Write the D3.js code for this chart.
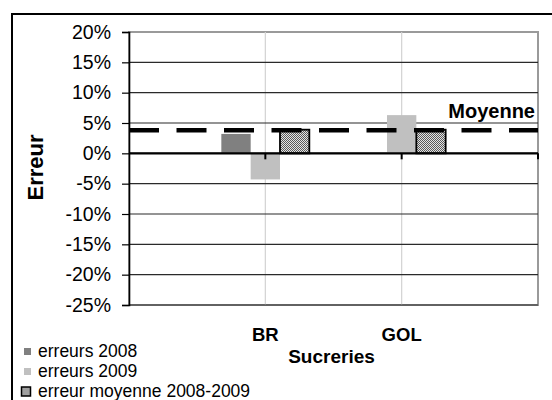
<!DOCTYPE html>
<html>
<head>
<meta charset="utf-8">
<script src="https://cdn.jsdelivr.net/npm/d3@7/dist/d3.min.js"></script>
<style>
  html, body { margin: 0; padding: 0; background: #fff; }
  svg { display: block; font-family: "Liberation Sans", Arial, sans-serif; }
</style>
</head>
<body>
<svg id="chart" width="552" height="400"></svg>
<script>
// Sugar mills and their error rates (percent)
const categories = ["BR", "GOL"];
const categorySlots = [1, 2];              // position of each mill on a 0..3 category axis
const series = ["erreurs 2008", "erreurs 2009", "erreur moyenne 2008-2009"];
const errors2008 = [3.2, null];
const errors2009 = [-4.3, 6.3];
const errorsMean = [3.9, 3.9];
const overallMean = 3.8;                    // "Moyenne" reference line
const yTicks = [20, 15, 10, 5, 0, -5, -10, -15, -20, -25];

const svg = d3.select("#chart");
const plot = { left: 129, right: 538, top: 32, bottom: 305 };

const x = d3.scaleLinear().domain([0, 3]).range([plot.left, plot.right]);
const y = d3.scaleLinear().domain([-25, 20]).range([plot.bottom, plot.top]);
const inner = d3.scaleBand().domain(series).range([-44, 44]).padding(0);

const fills = {
  "erreurs 2008": "#808080",
  "erreurs 2009": "#c0c0c0",
  "erreur moyenne 2008-2009": "url(#checker)"
};

// fine checker pattern for the mean-error bars
const defs = svg.append("defs");
const pat = defs.append("pattern")
  .attr("id", "checker").attr("patternUnits", "userSpaceOnUse")
  .attr("width", 2).attr("height", 2);
pat.append("rect").attr("width", 2).attr("height", 2).attr("fill", "#e4e4e4");
pat.append("rect").attr("width", 1).attr("height", 1).attr("fill", "#5a5a5a");
pat.append("rect").attr("x", 1).attr("y", 1).attr("width", 1).attr("height", 1).attr("fill", "#5a5a5a");

// outer chart frame
svg.append("rect")
  .attr("x", 12).attr("y", 14).attr("width", 600).attr("height", 500)
  .attr("fill", "none").attr("stroke", "#000").attr("stroke-width", 2);

// plot area border
svg.append("rect")
  .attr("x", plot.left).attr("y", plot.top)
  .attr("width", plot.right - plot.left).attr("height", plot.bottom - plot.top)
  .attr("fill", "none").attr("stroke", "#9a9a9a").attr("stroke-width", 2);

// vertical category gridlines
svg.append("g").selectAll("line").data(categorySlots).join("line")
  .attr("x1", d => x(d)).attr("x2", d => x(d))
  .attr("y1", plot.top).attr("y2", plot.bottom)
  .attr("stroke", "#d2d2d2").attr("stroke-width", 1.2);

// horizontal value gridlines
svg.append("g").selectAll("line").data(yTicks.filter(t => t < 20)).join("line")
  .attr("x1", plot.left).attr("x2", plot.right)
  .attr("y1", d => y(d)).attr("y2", d => y(d))
  .attr("stroke", "#2a2a2a").attr("stroke-width", 1.2);

// y axis
const yAxis = d3.axisLeft(y).tickValues(yTicks).tickSize(7).tickPadding(11)
  .tickFormat(d => d + "%");
const gy = svg.append("g").attr("transform", `translate(${plot.left},0)`).call(yAxis);
gy.select(".domain").attr("stroke", "#000").attr("stroke-width", 1.6);
gy.selectAll(".tick line").attr("stroke", "#000").attr("stroke-width", 1.2);
gy.selectAll(".tick text").attr("font-size", "19.5px").attr("fill", "#000")
  .attr("font-family", "Liberation Sans, Arial, sans-serif");

// bars
const rows = categories.map((c, i) => ({
  cat: c, slot: categorySlots[i],
  values: [errors2008[i], errors2009[i], errorsMean[i]]
}));
const bars = [];
rows.forEach(r => r.values.forEach((v, k) => {
  if (v !== null) bars.push({ slot: r.slot, s: series[k], v });
}));
svg.append("g").selectAll("rect").data(bars).join("rect")
  .attr("x", d => x(d.slot) + inner(d.s))
  .attr("width", inner.bandwidth())
  .attr("y", d => y(Math.max(0, d.v)))
  .attr("height", d => Math.abs(y(d.v) - y(0)))
  .attr("fill", d => fills[d.s])
  .attr("stroke", d => d.s === series[2] ? "#000" : "none")
  .attr("stroke-width", 1.8);

// category axis crossing at 0%
const xAxis = svg.append("g");
xAxis.append("line")
  .attr("x1", plot.left).attr("x2", plot.right)
  .attr("y1", y(0)).attr("y2", y(0))
  .attr("stroke", "#000").attr("stroke-width", 2.2);
xAxis.selectAll("line.tk").data([1, 2, 3]).join("line").attr("class", "tk")
  .attr("x1", d => x(d)).attr("x2", d => x(d))
  .attr("y1", y(0)).attr("y2", y(0) + 6)
  .attr("stroke", "#000").attr("stroke-width", 2);

// category labels below the plot
svg.append("g").selectAll("text").data(rows).join("text")
  .attr("x", d => x(d.slot)).attr("y", 340.5)
  .attr("text-anchor", "middle").attr("font-weight", "bold").attr("font-size", "18.5px")
  .text(d => d.cat);

// mean line
const meanLine = d3.line().x(d => x(d)).y(() => y(overallMean));
svg.append("path")
  .attr("d", meanLine([0, 3]))
  .attr("fill", "none").attr("stroke", "#000").attr("stroke-width", 4.5)
  .attr("stroke-dasharray", "30,17.5");
svg.append("text")
  .attr("x", plot.right - 3).attr("y", 117.5)
  .attr("text-anchor", "end").attr("font-weight", "bold").attr("font-size", "20px")
  .text("Moyenne");

// axis titles
svg.append("text")
  .attr("transform", "translate(43,167.5) rotate(-90)")
  .attr("text-anchor", "middle").attr("font-weight", "bold").attr("font-size", "22px")
  .text("Erreur");
svg.append("text")
  .attr("x", (plot.left + plot.right) / 2 - 2).attr("y", 362.5)
  .attr("text-anchor", "middle").attr("font-weight", "bold").attr("font-size", "19px")
  .text("Sucreries");

// legend
const legend = svg.append("g");
const lg = legend.selectAll("g").data(series).join("g")
  .attr("transform", (d, i) => `translate(0,${356.5 + i * 20})`);
lg.append("rect")
  .attr("x", (d, i) => i === 2 ? 21.5 : 24)
  .attr("y", (d, i) => i === 2 ? -9.5 : -8.5)
  .attr("width", (d, i) => i === 2 ? 9 : 7)
  .attr("height", (d, i) => i === 2 ? 9 : 7)
  .attr("fill", d => fills[d])
  .attr("stroke", (d, i) => i === 2 ? "#000" : "none")
  .attr("stroke-width", 1.5);
lg.append("text")
  .attr("x", 38).attr("y", 0)
  .attr("font-size", "17.5px")
  .text(d => d);
</script>
</body>
</html>
